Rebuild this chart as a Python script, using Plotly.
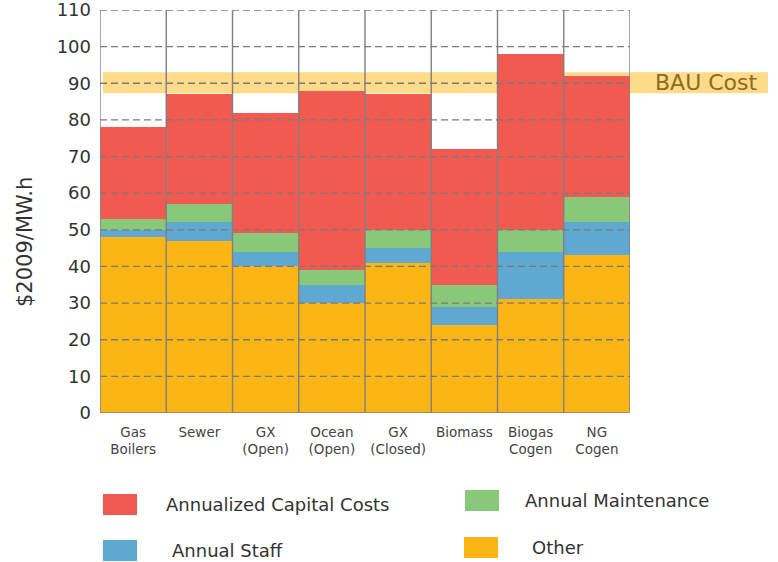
import plotly.graph_objects as go

categories = ["Gas<br>Boilers", "Sewer", "GX<br>(Open)", "Ocean<br>(Open)", "GX<br>(Closed)",
              "Biomass", "Biogas<br>Cogen", "NG<br>Cogen"]
other = [48, 47, 40, 30, 41, 24, 31, 43]
annual_staff = [2, 5, 4, 5, 4, 5, 13, 9]
annual_maintenance = [3, 5, 5, 4, 5, 6, 6, 7]
annualized_capital = [25, 30, 33, 49, 37, 37, 48, 33]
bau_low, bau_high = 87.3, 93.0
y_ticks = [0, 10, 20, 30, 40, 50, 60, 70, 80, 90, 100, 110]
y_title = "$2009/MW.h"

series_names = ["Other", "Annual Staff", "Annual Maintenance", "Annualized Capital Costs"]
series_values = [other, annual_staff, annual_maintenance, annualized_capital]
colors = ["#FBB615", "#5FA8D2", "#88C878", "#F15A50"]

W, H = 778, 562
# plot area in page pixels
L, R, T, B = 100, 630, 10, 413

def px_x(p):
    return (p - L) / (R - L)

def px_y(p):
    return (B - p) / (B - T)

FONT = "DejaVu Sans"
xs = list(range(len(categories)))
ytop = y_ticks[-1]

fig = go.Figure()
for name, vals, col in zip(series_names, series_values, colors):
    fig.add_trace(go.Bar(x=xs, y=vals, name=name, marker=dict(color=col, line=dict(width=0)),
                         showlegend=False, hoverinfo="y+name"))

shapes = []
# BAU band
shapes.append(dict(type="rect", xref="paper", yref="y", x0=px_x(103), x1=px_x(768),
                   y0=bau_low, y1=bau_high, fillcolor="#FDDB88", line=dict(width=0), layer="below"))
# dashed gridlines above bars
for t in y_ticks[1:]:
    shapes.append(dict(type="line", xref="x", yref="y", x0=-0.5, x1=len(xs) - 0.5, y0=t, y1=t,
                       line=dict(color="#7a7a7a", width=1.3, dash="7px,4px"), layer="above"))
# vertical separators
for i in range(len(xs) + 1):
    shapes.append(dict(type="line", xref="x", yref="y", x0=i - 0.5, x1=i - 0.5, y0=0, y1=ytop,
                       line=dict(color="#808080", width=1.4), layer="above"))
# bottom line
shapes.append(dict(type="line", xref="x", yref="y", x0=-0.5, x1=len(xs) - 0.5, y0=0, y1=0,
                   line=dict(color="#808080", width=1.4), layer="above"))

# custom legend (page pixel positions)
legend_items = [
    ("Annualized Capital Costs", colors[3], 103, 494, 167),
    ("Annual Maintenance", colors[2], 465, 490, 526),
    ("Annual Staff", colors[1], 103, 540, 173),
    ("Other", colors[0], 464, 537, 533),
]
annotations = []
for label, col, sx, sy, tx in legend_items:
    shapes.append(dict(type="rect", xref="paper", yref="paper", x0=px_x(sx), x1=px_x(sx + 34),
                       y0=px_y(sy), y1=px_y(sy + 21), fillcolor=col, line=dict(width=0)))
    annotations.append(dict(xref="paper", yref="paper", x=px_x(tx - 3), y=px_y(sy + 10.5), text=label,
                            showarrow=False, xanchor="left", yanchor="middle",
                            font=dict(family=FONT, size=18, color="#333333")))

annotations.append(dict(xref="paper", yref="y", x=px_x(706), y=(bau_low + bau_high) / 2, text="BAU Cost",
                        showarrow=False, xanchor="center", yanchor="middle",
                        font=dict(family=FONT, size=22, color="#8C6B22")))

# y-axis title (placed lower than centre, as in the original)
annotations.append(dict(xref="paper", yref="paper", x=px_x(25), y=px_y(242), text=y_title,
                        textangle=-90, showarrow=False, xanchor="center", yanchor="middle",
                        font=dict(family=FONT, size=21, color="#333333")))

fig.update_layout(
    width=W, height=H,
    margin=dict(l=L, r=W - R, t=T, b=H - B, pad=0, autoexpand=False),
    paper_bgcolor="white", plot_bgcolor="white",
    barmode="stack", bargap=0,
    shapes=shapes, annotations=annotations,
    showlegend=False,
    xaxis=dict(range=[-0.5, len(xs) - 0.5], tickvals=xs, ticktext=categories, showgrid=False,
               zeroline=False, showline=False, ticks="", ticklabelstandoff=9, automargin=False,
               tickfont=dict(family=FONT, size=13.5, color="#444444")),
    yaxis=dict(range=[0, ytop], tickvals=y_ticks, showgrid=False, zeroline=False,
               showline=False, ticks="", ticklabelstandoff=8, ticklabeloverflow="allow",
               automargin=False,
               tickfont=dict(family=FONT, size=18, color="#333333")),
)

fig.write_html("out.html", config={"displayModeBar": False},
               post_script="document.body.style.margin='0px';document.body.style.padding='0px';")
